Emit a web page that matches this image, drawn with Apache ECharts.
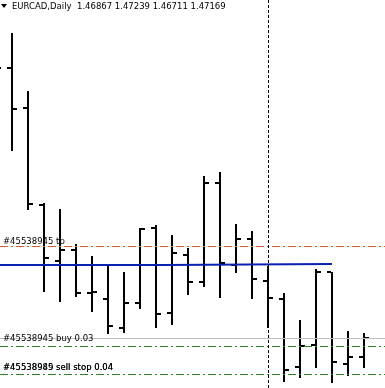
<!DOCTYPE html>
<html>
<head>
<meta charset="utf-8">
<script src="https://cdn.jsdelivr.net/npm/echarts@6/dist/echarts.min.js"></script>
<style>
  html, body { margin: 0; padding: 0; background: #fff; }
  #chart { width: 385px; height: 388px; }
</style>
</head>
<body>
<div id="chart"></div>
<script>
const symbolName = "EURCAD,Daily";

// daily bars, index -1 is the one cut off at the left edge
const dayIndex = [-1, 0, 1, 2, 3, 4, 5, 6, 7, 8, 9, 10, 11, 12, 13, 14, 15, 16, 17, 18, 19, 20, 21, 22];
const barOpen = [1.5160, 1.51354, 1.50733, 1.49227, 1.48357, 1.48528, 1.47860, 1.47767, 1.47317, 1.47705, 1.48870, 1.47550,
  1.48450, 1.48031, 1.49568, 1.48295, 1.48699, 1.48047, 1.47767, 1.46711, 1.47053, 1.48186, 1.46758, 1.46867];
const barHigh = [1.5205, 1.51898, 1.50997, 1.49258, 1.49165, 1.48621, 1.48435, 1.48279, 1.48186, 1.48870, 1.48916, 1.48761,
  1.48559, 1.49677, 1.49739, 1.48932, 1.48823, 1.48279, 1.47860, 1.47441, 1.48233, 1.48186, 1.47270, 1.47239];
const barLow = [1.5120, 1.50081, 1.49165, 1.47891, 1.47736, 1.47814, 1.47581, 1.47239, 1.47255, 1.47627, 1.47332, 1.47379,
  1.47845, 1.47969, 1.47798, 1.48186, 1.47783, 1.47332, 1.46494, 1.46556, 1.46711, 1.46478, 1.46587, 1.46711];
const barClose = [1.51354, 1.50717, 1.49242, 1.48404, 1.48528, 1.47860, 1.47876, 1.47348, 1.47705, 1.48854, 1.47534, 1.48481,
  1.48031, 1.49568, 1.48326, 1.48699, 1.48078, 1.47783, 1.46665, 1.47037, 1.48186, 1.46789, 1.46866, 1.47169];

// blue level line (steps by one point mid-way)
const blueX = [-0.75, 9.5, 9.5, 20];
const blueY = [1.48295, 1.48295, 1.48311, 1.48311];

// order lines
const tpPrice = 1.48590;
const tpLabel = "#45538945 tp";
const buyOpenPrice = 1.47161;
const buyPrice = 1.47040;
const buyLabel = "#45538945 buy 0.03";
const sellStopPrice = 1.46602;
const sellStopLabels = ["#45538945 sell stop 0.04", "#45538989 sell stop 0.04"];
const separatorIndex = 16;

const font = "DejaVu Sans";
const fontSize = 8.5;

const last = barClose.length - 1;
const fmt = (v) => v.toFixed(5);
const titleText = symbolName + "  " + fmt(barOpen[last]) + " " + fmt(barHigh[last]) + " " +
  fmt(barLow[last]) + " " + fmt(barClose[last]);

const ohlc = dayIndex.map((d, i) => [d, barOpen[i], barHigh[i], barLow[i], barClose[i]]);

function renderBar(params, api) {
  const x = Math.round(api.coord([api.value(0), api.value(2)])[0]);
  const yo = Math.round(api.coord([0, api.value(1)])[1]);
  const yh = Math.round(api.coord([0, api.value(2)])[1]);
  const yl = Math.round(api.coord([0, api.value(3)])[1]);
  const yc = Math.round(api.coord([0, api.value(4)])[1]);
  const style = { fill: "#000" };
  return {
    type: "group",
    children: [
      { type: "rect", shape: { x: x - 1, y: yh, width: 2, height: yl - yh + 1 }, style },
      { type: "rect", shape: { x: x - 5, y: yo - 1, width: 4, height: 2 }, style },
      { type: "rect", shape: { x: x + 1, y: yc - 1, width: 4, height: 2 }, style },
    ],
  };
}

function orderLabel(text, dist) {
  return {
    show: true,
    position: "insideStartTop",
    formatter: text,
    distance: [3, dist],
    color: "#000",
    fontFamily: font,
    fontSize: fontSize,
  };
}

const red = "#dc5a2c";
const green = "#2a852a";
const dashDot = [8, 3, 2, 3];

const chart = echarts.init(document.getElementById("chart"), null, { renderer: "canvas" });

chart.setOption({
  animation: false,
  backgroundColor: "#fff",
  title: {
    text: titleText,
    left: 12,
    top: 2,
    padding: 0,
    textStyle: { fontFamily: font, fontSize: fontSize, fontWeight: "normal", color: "#000" },
  },
  graphic: [
    { type: "polygon", shape: { points: [[1, 4], [7, 4], [4, 8]] }, style: { fill: "#000" } },
  ],
  grid: { left: 0, right: 0, top: 0, bottom: 0 },
  xAxis: {
    type: "value",
    min: -0.75,
    max: 23.3125,
    show: false,
  },
  yAxis: {
    type: "value",
    min: 1.46385,
    max: 1.5241,
    show: false,
  },
  series: [
    {
      type: "line",
      data: [],
      silent: true,
      z: 1,
      markLine: {
        silent: true,
        symbol: "none",
        precision: 5,
        animation: false,
        data: [
          { yAxis: buyOpenPrice, lineStyle: { color: "#c0c0c0", width: 1, type: "solid" }, label: { show: false } },
          { yAxis: tpPrice, lineStyle: { color: red, width: 1, type: dashDot }, label: orderLabel(tpLabel, 0) },
          { yAxis: buyPrice, lineStyle: { color: green, width: 1, type: dashDot }, label: orderLabel(buyLabel, 3) },
          { yAxis: sellStopPrice, lineStyle: { color: green, width: 1, type: dashDot }, label: orderLabel(sellStopLabels[0], 2) },
          { yAxis: sellStopPrice, lineStyle: { color: green, width: 1, type: dashDot }, label: orderLabel(sellStopLabels[1], 2) },
          { xAxis: separatorIndex, lineStyle: { color: "#000", width: 1, type: [3, 2] }, label: { show: false } },
        ],
      },
    },
    {
      type: "custom",
      renderItem: renderBar,
      data: ohlc,
      encode: { x: 0, y: [1, 2, 3, 4] },
      z: 2,
    },
    {
      type: "line",
      data: blueX.map((x, i) => [x, blueY[i]]),
      showSymbol: false,
      lineStyle: { color: "#0a20b0", width: 2 },
      silent: true,
      z: 3,
    },
  ],
});
</script>
</body>
</html>
